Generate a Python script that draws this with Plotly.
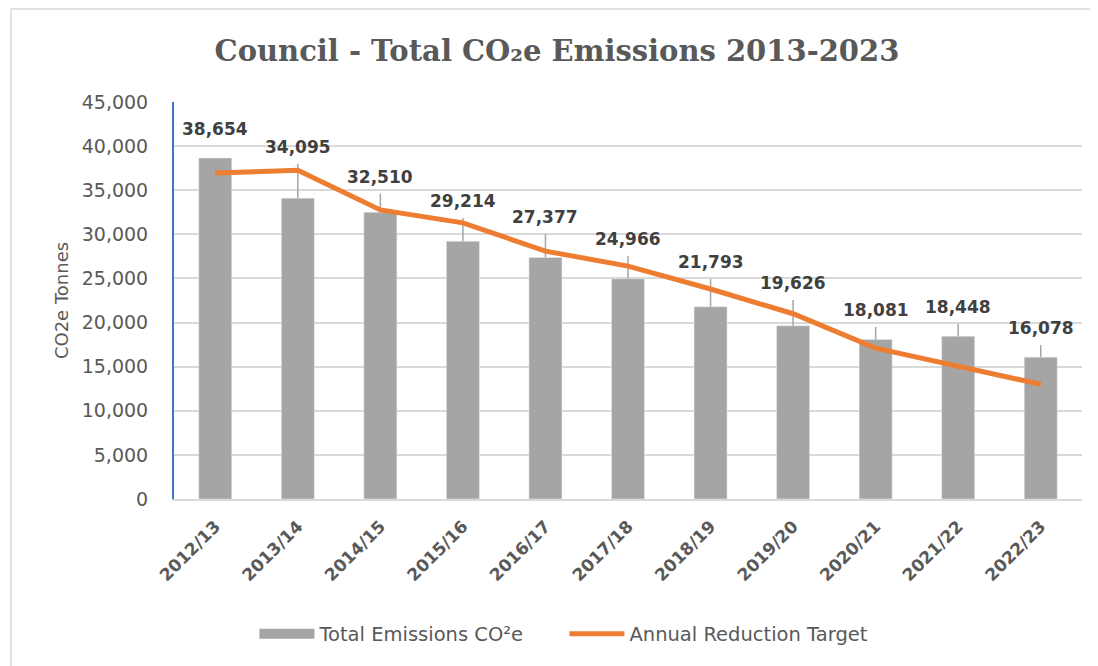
import plotly.graph_objects as go

years = ["2012/13", "2013/14", "2014/15", "2015/16", "2016/17", "2017/18",
         "2018/19", "2019/20", "2020/21", "2021/22", "2022/23"]
total = [38654, 34095, 32510, 29214, 27377, 24966, 21793, 19626, 18081, 18448, 16078]
err_plus = [0, 3900, 2100, 2650, 2670, 2580, 3150, 2940, 1420, 1390, 1380]
target = [36950, 37250, 32770, 31300, 28100, 26400, 23800, 21000, 17100, 15100, 13000]
label_shift = [29, 17, 17, 17, 17, 17, 17, 17, 17, 17, 17]

GREY_TXT = "#595959"
BAR_GREY = "#a5a5a5"
ORANGE = "#ed7d31"
BODY_FONT = "DejaVu Sans"

fig = go.Figure()

fig.add_trace(go.Bar(
    x=years, y=total,
    name="Total Emissions CO²e",
    marker_color=BAR_GREY,
    width=0.4,
    showlegend=False,
    error_y=dict(type="data", symmetric=False, array=err_plus, arrayminus=[0] * len(total),
                 color=BAR_GREY, thickness=1.5, width=0),
))

# legend-only entry so the bar key is drawn as a wide block like Excel does
fig.add_trace(go.Scatter(
    x=[None], y=[None], mode="lines",
    name="Total Emissions CO²e",
    line=dict(color=BAR_GREY, width=12),
))

fig.add_trace(go.Scatter(
    x=years, y=target,
    name="Annual Reduction Target",
    mode="lines",
    line=dict(color=ORANGE, width=5),
))

# value labels sit above the error bars
for yr, v, e, s in zip(years, total, err_plus, label_shift):
    fig.add_annotation(
        x=yr, y=v + e, yshift=s, text=f"{v:,}", showarrow=False,
        font=dict(family=BODY_FONT, size=17, color="#404040", weight="bold"),
    )

fig.update_layout(
    width=1098, height=666,
    margin=dict(l=166, r=24, t=94, b=175, autoexpand=False),
    paper_bgcolor="white", plot_bgcolor="white",
    title=dict(
        text="Council - Total CO₂e Emissions 2013-2023",
        x=0.5, xanchor="center", y=0.935, yanchor="middle",
        font=dict(family="DejaVu Serif", size=29, color=GREY_TXT, weight="bold"),
    ),
    xaxis=dict(
        showgrid=False, showline=True, linecolor="#d9d9d9", linewidth=1.5,
        tickangle=-45, ticks="", ticklabelstandoff=9,
        tickfont=dict(family=BODY_FONT, size=17, color=GREY_TXT, weight="bold"),
    ),
    yaxis=dict(
        range=[0, 45000], dtick=5000, tickformat=",",
        showgrid=True, gridcolor="#d9d9d9", gridwidth=1.5,
        showline=True, linecolor="#4472c4", linewidth=2,
        zeroline=False, ticks="", ticklabelstandoff=20,
        tickfont=dict(family=BODY_FONT, size=19, color=GREY_TXT),
        title=dict(text="CO2e Tonnes", standoff=8,
                   font=dict(family=BODY_FONT, size=18, color=GREY_TXT)),
    ),
    legend=dict(
        orientation="h", x=0.43, xanchor="center",
        y=-0.34, yanchor="middle",
        font=dict(family=BODY_FONT, size=19.5, color=GREY_TXT),
        traceorder="normal", itemwidth=55,
        entrywidth=240, entrywidthmode="pixels",
    ),
    shapes=[dict(type="rect", xref="paper", yref="paper",
                 x0=-0.1795, x1=1.2, y0=-0.5, y1=1.234,
                 line=dict(color="#d9d9d9", width=1.5), fillcolor="rgba(0,0,0,0)")],
)

fig.write_html("out.html")
